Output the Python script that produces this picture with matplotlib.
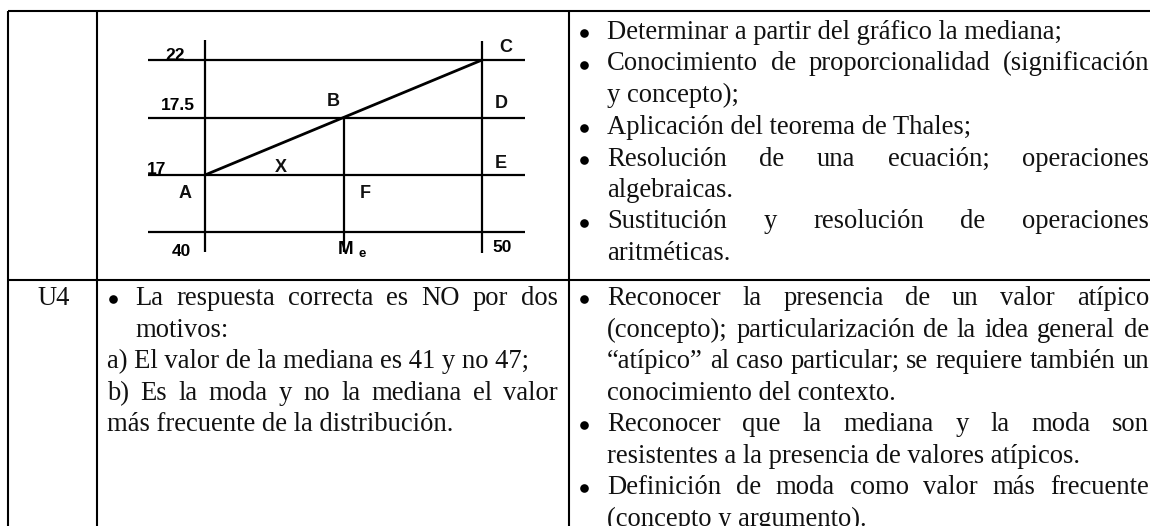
import matplotlib
matplotlib.use('Agg')
import matplotlib.pyplot as plt

W, H = 1150, 526
FS = 19.15  # Times-like body size
TXT_RIGHT = 1149

# table rules, pixels
row_y = [11, 280]
col_x = [8, 97, 569]

# small diagram
h_levels = [60, 118, 175, 232]
v_lines = [(205, 40, 252), (482, 41, 253), (344, 118, 252)]
diag = ([205, 482], [175, 60])
digit_labels = [('22', 175, 55), ('17.5', 178, 106), ('17', 157, 169), ('40', 181, 252), ('50', 502, 248)]
letter_labels = [('B', 333, 102), ('C', 506, 48), ('D', 501, 104), ('E', 501, 163),
                 ('X', 281, 168), ('A', 185, 193), ('F', 365, 194)]

# (text, bullet?, justify?)
right_top = [
    ('Determinar a partir del gráfico la mediana;', True, False),
    ('Conocimiento de proporcionalidad (significación', True, True),
    ('y concepto);', False, False),
    ('Aplicación del teorema de Thales;', True, False),
    ('Resolución de una ecuación; operaciones', True, True),
    ('algebraicas.', False, False),
    ('Sustitución y resolución de operaciones', True, True),
    ('aritméticas.', False, False),
]
right_bot = [
    ('Reconocer la presencia de un valor atípico', True, True),
    ('(concepto); particularización de la idea general de', False, True),
    ('“atípico” al caso particular; se requiere también un', False, True),
    ('conocimiento del contexto.', False, False),
    ('Reconocer que la mediana y la moda son', True, True),
    ('resistentes a la presencia de valores atípicos.', False, False),
    ('Definición de moda como valor más frecuente', True, True),
    ('(concepto y argumento).', False, False),
]
mid_bot = [
    ('La respuesta correcta es NO por dos', True, True, 135),
    ('motivos:', False, False, 135),
    ('a) El valor de la mediana es 41 y no 47;', False, False, 107),
    ('b) Es la moda y no la mediana el valor', False, True, 107),
    ('más frecuente de la distribución.', False, False, 107),
]
right_top_y = [39, 70.5, 102, 133.5, 165.5, 197, 228.5, 260]
right_bot_y = [305, 337, 368, 400, 431, 463, 494, 526]
mid_bot_y = [305, 337, 368, 400, 431]

fig = plt.figure(figsize=(W / 100, H / 100), dpi=100)
ax = fig.add_axes([0, 0, 1, 1])
ax.set_xlim(0, W)
ax.set_ylim(H, 0)
ax.axis('off')
rend = fig.canvas.get_renderer()

def put(s, x, y, size=FS):
    return ax.text(x, y, s, fontsize=size, family='Liberation Serif', va='baseline', ha='left', color='#111111', clip_on=True)

def width(s):
    t = put(s, 0, 0)
    w = t.get_window_extent(rend).width
    t.remove()
    return w

def line(s, x0, x1, y, justify, bullet, bx):
    if bullet:
        ax.plot([bx], [y - 6], 'o', color='black', ms=6.2, mew=0)
    if not justify:
        put(s, x0, y)
        return
    words = s.split(' ')
    ws = [width(w) for w in words]
    gap = (x1 - x0 - sum(ws)) / (len(words) - 1)
    x = x0
    for w, wd in zip(words, ws):
        put(w, x, y)
        x += wd + gap

# rules
for y in row_y:
    ax.plot([col_x[0], W], [y, y], color='black', lw=1.5, solid_capstyle='butt')
for x in col_x:
    ax.plot([x, x], [row_y[0], H], color='black', lw=1.5, solid_capstyle='butt')

# diagram
for y in h_levels:
    ax.plot([148, 525], [y, y], color='black', lw=1.6, solid_capstyle='butt')
for x, y0, y1 in v_lines:
    ax.plot([x, x], [y0, y1], color='black', lw=1.6, solid_capstyle='butt')
ax.plot(diag[0], diag[1], color='black', lw=2.0)
for s, x, y in digit_labels:
    ax.text(x, y, s, fontsize=12.5, family='Liberation Sans', weight='bold', ha='center', va='center', color='black')
for s, x, y in letter_labels:
    ax.text(x, y, s, fontsize=13, family='Liberation Sans', weight='bold', ha='center', va='center', color='#111111')
ax.text(346, 249, 'M', fontsize=13.5, family='Liberation Sans', weight='bold', ha='center', va='center')
ax.text(362, 254, 'e', fontsize=9.5, family='Liberation Sans', weight='bold', ha='center', va='center')

# text cells
put('U4', 37, 305)
for (s, b, j), y in zip(right_top, right_top_y):
    line(s, 607, TXT_RIGHT, y, j, b, 584)
for (s, b, j), y in zip(right_bot, right_bot_y):
    line(s, 607, TXT_RIGHT, y, j, b, 584)
for (s, b, j, x0), y in zip(mid_bot, mid_bot_y):
    line(s, x0, 558, y, j, b, 113)

fig.savefig('out.png', dpi=100)
